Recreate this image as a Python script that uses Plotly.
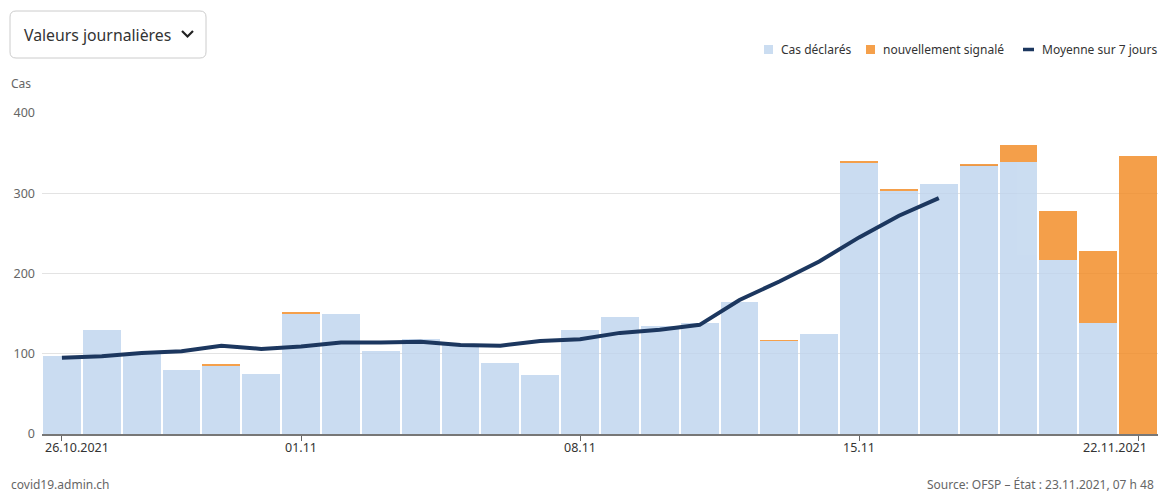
import plotly.graph_objects as go
import pandas as pd

# ---------------- data ----------------
dates = pd.date_range("2021-10-26", "2021-11-22", freq="D").strftime("%Y-%m-%d").tolist()
cas_declares = [97, 130, 101, 80, 85, 75, 150, 149, 103, 118, 112, 89, 73, 130,
                146, 134, 138, 164, 116, 124, 338, 303, 312, 335, 339, 217, 138, 0]
nouvellement = [0, 0, 0, 0, 1, 0, 2, 0, 0, 0, 0, 0, 0, 0,
                0, 0, 0, 0, 1, 0, 1, 2, 0, 2, 21, 61, 90, 347]
moyenne_dates = dates[:23]
moyenne_7j = [95, 97, 101, 103, 110, 106, 109, 114, 114, 115, 111, 110, 116, 118,
              126, 130, 136, 167, 190, 215, 245, 272, 294]
tick_dates = ["2021-10-26", "2021-11-01", "2021-11-08", "2021-11-15", "2021-11-22"]
tick_labels = ["26.10.2021", "01.11", "08.11", "15.11", "22.11.2021"]
y_ticks = [0, 100, 200, 300, 400]
series_names = ["Cas déclarés", "nouvellement signalé", "Moyenne sur 7 jours"]

# ---------------- geometry helpers ----------------
W, H = 1160, 495
L, R, T, B = 42, 2, 113, 61
PW, PH = W - L - R, H - T - B


def px(x):
    return (x - L) / PW


def py(y):
    return (H - B - y) / PH


FONT = "Noto Sans"
DARK = "#333333"
GREY = "#666666"
BLUE = "rgb(190,212,238)"
ORANGE = "rgb(242,136,30)"
NAVY = "#1c375f"

fig = go.Figure()
fig.add_trace(go.Bar(
    x=dates, y=cas_declares, name=series_names[0],
    marker=dict(color=BLUE, line=dict(width=0)), opacity=0.8,
))
fig.add_trace(go.Bar(
    x=dates, y=nouvellement, name=series_names[1],
    marker=dict(color=ORANGE, line=dict(width=0)), opacity=0.8,
))
fig.add_trace(go.Scatter(
    x=moyenne_dates, y=moyenne_7j, name=series_names[2], mode="lines",
    line=dict(color=NAVY, width=4),
))

annotations = []
for d, t in zip(tick_dates, tick_labels):
    anchor = "center"
    shift = 0
    if t == tick_labels[0]:
        anchor, shift = "left", -19
    elif t == tick_labels[-1]:
        anchor, shift = "right", 11
    annotations.append(dict(
        x=d, y=0, xref="x", yref="paper", text=t, showarrow=False,
        xanchor=anchor, yanchor="middle", yshift=-13, xshift=shift,
        font=dict(size=12.5, color=DARK, family=FONT),
    ))

annotations += [
    dict(x=px(22), y=py(35), xref="paper", yref="paper", text="Valeurs journalières",
         showarrow=False, xanchor="left", yanchor="middle",
         font=dict(size=15.8, color=DARK, family=FONT)),
    dict(x=px(9), y=py(83), xref="paper", yref="paper", text="Cas",
         showarrow=False, xanchor="left", yanchor="middle",
         font=dict(size=12, color=GREY, family=FONT)),
    dict(x=px(9), y=py(485), xref="paper", yref="paper", text="covid19.admin.ch",
         showarrow=False, xanchor="left", yanchor="middle",
         font=dict(size=12, color=GREY, family=FONT)),
    dict(x=px(1156), y=py(485), xref="paper", yref="paper",
         text="Source: OFSP – État : 23.11.2021, 07 h 48",
         showarrow=False, xanchor="right", yanchor="middle",
         font=dict(size=12, color=GREY, family=FONT)),
]

# custom legend (text placed at reference positions)
legend_text_x = [779, 881, 1040]
for name, lx in zip(series_names, legend_text_x):
    annotations.append(dict(
        x=px(lx), y=py(49), xref="paper", yref="paper", text=name, showarrow=False,
        xanchor="left", yanchor="middle", font=dict(size=12, color=DARK, family=FONT),
    ))

# rounded dropdown box
x0, x1, y0, y1, r = 10, 206, 11, 58, 6
rx = r / PW
ry = r / PH
X0, X1, Y0, Y1 = px(x0), px(x1), py(y0), py(y1)
box_path = (
    f"M {X0+rx},{Y0} L {X1-rx},{Y0} Q {X1},{Y0} {X1},{Y0-ry} "
    f"L {X1},{Y1+ry} Q {X1},{Y1} {X1-rx},{Y1} "
    f"L {X0+rx},{Y1} Q {X0},{Y1} {X0},{Y1+ry} "
    f"L {X0},{Y0-ry} Q {X0},{Y0} {X0+rx},{Y0} Z"
)
chev_path = f"M {px(182)},{py(31)} L {px(187.5)},{py(36.5)} L {px(193)},{py(31)}"

shapes = [
    dict(type="path", path=box_path, xref="paper", yref="paper",
         line=dict(color="#cccccc", width=1), fillcolor="white", layer="above"),
    dict(type="path", path=chev_path, xref="paper", yref="paper",
         line=dict(color="#222222", width=2.2), layer="above"),
    # legend symbols
    dict(type="rect", xref="paper", yref="paper",
         x0=px(764), x1=px(773), y0=py(45), y1=py(54),
         fillcolor=BLUE, opacity=0.8, line=dict(width=0)),
    dict(type="rect", xref="paper", yref="paper",
         x0=px(866), x1=px(875), y0=py(45), y1=py(54),
         fillcolor=ORANGE, opacity=0.8, line=dict(width=0)),
    dict(type="line", xref="paper", yref="paper",
         x0=px(1023), x1=px(1034), y0=py(49.5), y1=py(49.5),
         line=dict(color=NAVY, width=3.5)),
]

fig.update_layout(
    width=W, height=H,
    margin=dict(l=L, r=R, t=T, b=B),
    barmode="stack", bargap=0.05,
    plot_bgcolor="white", paper_bgcolor="white",
    font=dict(family=FONT, color=DARK, size=12),
    showlegend=False,
    xaxis=dict(
        type="date",
        range=["2021-10-25 12:00", "2021-11-22 12:00"],
        tickvals=tick_dates, ticktext=tick_labels, showticklabels=False,
        ticks="outside", ticklen=5, tickcolor=GREY, tickwidth=1,
        showgrid=False, showline=True, linecolor="#777777", linewidth=2,
        zeroline=False, fixedrange=True,
    ),
    yaxis=dict(
        range=[0, 400], tickvals=y_ticks, showgrid=True, gridcolor="#e3e3e3",
        gridwidth=1, zeroline=False, showline=False, ticks="",
        tickfont=dict(size=12.5, color=GREY, family=FONT), ticklabelstandoff=6,
        fixedrange=True,
    ),
    annotations=annotations,
    shapes=shapes,
)

fig.write_html(
    "out.html",
    config={"displayModeBar": False},
    post_script="document.body.style.margin='0';document.body.style.overflow='hidden';",
)
